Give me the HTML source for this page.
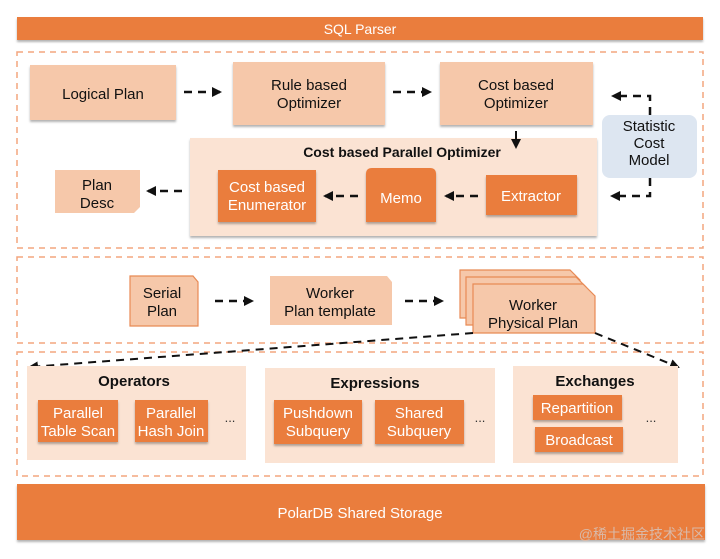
<!DOCTYPE html>
<html><head><meta charset="utf-8"><style>
html,body{margin:0;padding:0;background:#fff;}
svg{display:block;font-family:"Liberation Sans","Noto Sans CJK SC",sans-serif;}
</style></head><body>
<svg width="720" height="559" viewBox="0 0 720 559" xmlns="http://www.w3.org/2000/svg">
<defs>
<marker id="ah" markerWidth="10" markerHeight="10" refX="8" refY="5" orient="auto" markerUnits="userSpaceOnUse"><path d="M0,0 L10,5 L0,10 Z" fill="#111"/></marker>
<filter id="sh" x="-5%" y="-5%" width="110%" height="120%"><feDropShadow dx="0" dy="2" stdDeviation="1" flood-color="#000" flood-opacity="0.3"/></filter>
</defs>
<rect x="17" y="17" width="686" height="23" fill="#ea7d3c" filter="url(#sh)"/>
<text x="360" y="34" fill="#fff" font-size="14" text-anchor="middle">SQL Parser</text>
<rect x="17" y="52" width="686" height="196" fill="none" stroke="#f4a57f" stroke-width="1.5" stroke-dasharray="6,5"/>
<rect x="17" y="257" width="686" height="86" fill="none" stroke="#f4a57f" stroke-width="1.5" stroke-dasharray="6,5"/>
<rect x="17" y="352" width="686" height="124" fill="none" stroke="#f4a57f" stroke-width="1.5" stroke-dasharray="6,5"/>
<g fill="#f6c8aa" filter="url(#sh)">
<rect x="30" y="65" width="146" height="55"/>
<rect x="233" y="62" width="152" height="63"/>
<rect x="440" y="62" width="153" height="63"/>
</g>
<g font-size="15" fill="#111" text-anchor="middle">
<text x="103" y="99">Logical Plan</text>
<text x="309" y="90">Rule based</text><text x="309" y="108">Optimizer</text>
<text x="516" y="90">Cost based</text><text x="516" y="108">Optimizer</text>
</g>
<rect x="602" y="115" width="95" height="63" rx="8" fill="#dde6f1"/>
<g font-size="15" fill="#111" text-anchor="middle"><text x="649" y="131">Statistic</text><text x="649" y="148">Cost</text><text x="649" y="165">Model</text></g>
<rect x="190" y="138" width="407" height="98" fill="#fbe3d3" filter="url(#sh)"/>
<text x="402" y="157" font-size="14" font-weight="bold" text-anchor="middle" fill="#111">Cost based Parallel Optimizer</text>
<path d="M55,170 H140 V207 L134,213 H55 Z" fill="#f6c8aa"/>
<g font-size="15" fill="#111" text-anchor="middle"><text x="97" y="190">Plan</text><text x="97" y="208">Desc</text></g>
<g fill="#ea7d3c" filter="url(#sh)">
<rect x="218" y="170" width="98" height="52"/>
<path d="M366,174 Q366,168 372,168 H430 Q436,168 436,174 V222 H366 Z"/>
<rect x="486" y="175" width="91" height="40"/>
</g>
<g font-size="15" fill="#fff" text-anchor="middle">
<text x="267" y="192">Cost based</text><text x="267" y="210">Enumerator</text>
<text x="401" y="203">Memo</text>
<text x="531" y="201">Extractor</text>
</g>
<g stroke="#111" stroke-width="2.5" stroke-dasharray="8,6" fill="none">
<line x1="184" y1="92" x2="220" y2="92" marker-end="url(#ah)"/>
<line x1="393" y1="92" x2="430" y2="92" marker-end="url(#ah)"/>
<path d="M650,115 V96 H613" marker-end="url(#ah)"/>
<path d="M650,178 V196 H612" marker-end="url(#ah)"/>
<line x1="478" y1="196" x2="446" y2="196" marker-end="url(#ah)"/>
<line x1="358" y1="196" x2="325" y2="196" marker-end="url(#ah)"/>
<line x1="182" y1="191" x2="148" y2="191" marker-end="url(#ah)"/>
</g>
<line x1="516" y1="131" x2="516" y2="147" stroke="#111" stroke-width="2" marker-end="url(#ah)"/>
<g stroke="#e88a55" stroke-width="1.2" fill="#f6c8aa">
<path d="M130,276 H193 L198,282 V326 H130 Z"/>
<path d="M460,270 H570 L580,280 V318 H460 Z"/>
<path d="M466,277 H576 L586,287 V325 H466 Z"/>
<path d="M473,284 H583 L595,296 V333 H473 Z"/>
</g>
<path d="M270,276 H387 L392,282 V325 H270 Z" fill="#f6c8aa"/>
<g font-size="15" fill="#111" text-anchor="middle">
<text x="162" y="298">Serial</text><text x="162" y="316">Plan</text>
<text x="330" y="298">Worker</text><text x="330" y="316">Plan template</text>
<text x="533" y="310">Worker</text><text x="533" y="328">Physical Plan</text>
</g>
<g stroke="#111" stroke-width="2.5" stroke-dasharray="8,6" fill="none">
<line x1="215" y1="301" x2="252" y2="301" marker-end="url(#ah)"/>
<line x1="405" y1="301" x2="442" y2="301" marker-end="url(#ah)"/>
<line x1="473" y1="333" x2="30" y2="367" stroke-width="2" marker-end="url(#ah)"/>
<line x1="595" y1="333" x2="678" y2="367" stroke-width="2" marker-end="url(#ah)"/>
</g>
<g fill="#fbe3d3">
<rect x="27" y="366" width="219" height="94"/>
<rect x="265" y="368" width="230" height="95"/>
<rect x="513" y="366" width="165" height="97"/>
</g>
<g font-size="15" font-weight="bold" fill="#111" text-anchor="middle">
<text x="134" y="386">Operators</text><text x="375" y="388">Expressions</text><text x="595" y="386">Exchanges</text>
</g>
<g fill="#ea7d3c" filter="url(#sh)">
<rect x="38" y="400" width="80" height="42"/>
<rect x="135" y="400" width="73" height="42"/>
<rect x="274" y="400" width="88" height="44"/>
<rect x="375" y="400" width="89" height="44"/>
<rect x="533" y="395" width="89" height="25"/>
<rect x="535" y="427" width="88" height="25"/>
</g>
<g font-size="15" fill="#fff" text-anchor="middle">
<text x="78" y="418">Parallel</text><text x="78" y="436">Table Scan</text>
<text x="171" y="418">Parallel</text><text x="171" y="436">Hash Join</text>
<text x="318" y="418">Pushdown</text><text x="318" y="436">Subquery</text>
<text x="419" y="418">Shared</text><text x="419" y="436">Subquery</text>
<text x="577" y="413">Repartition</text>
<text x="579" y="445">Broadcast</text>
</g>
<g font-size="13" fill="#333" text-anchor="middle"><text x="230" y="422">...</text><text x="480" y="422">...</text><text x="651" y="422">...</text></g>
<rect x="17" y="484" width="688" height="56" fill="#ea7d3c" filter="url(#sh)"/>
<text x="360" y="518" fill="#fff" font-size="15" text-anchor="middle">PolarDB Shared Storage</text>
<text x="705" y="539" fill="#d9b9a8" font-size="14" text-anchor="end">@稀土掘金技术社区</text>
</svg>
</body></html>
